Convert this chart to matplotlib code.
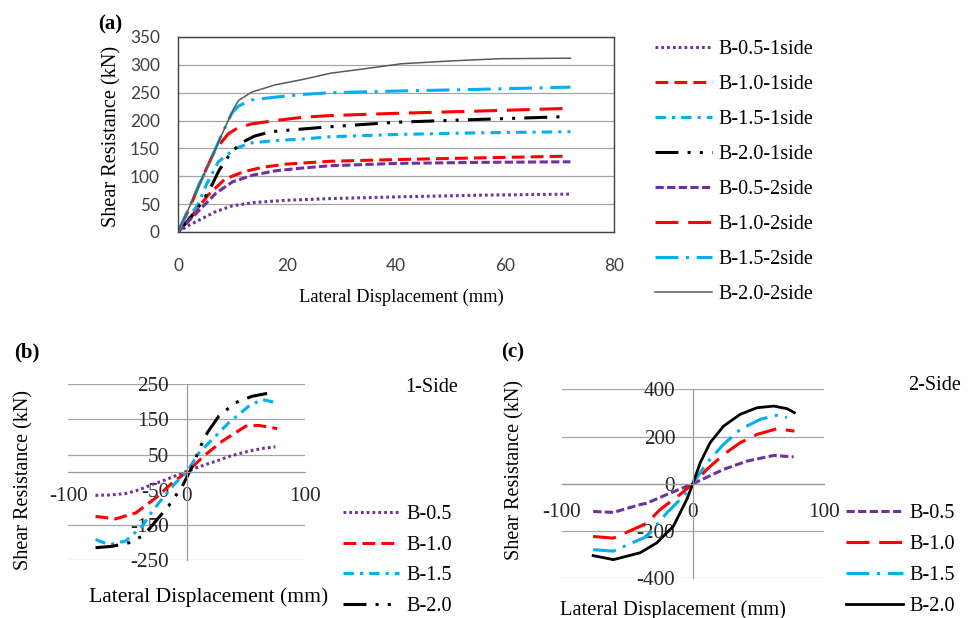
import matplotlib
matplotlib.use("Agg")
import matplotlib.pyplot as plt

# ---------------- data: panel (a) ----------------
a_labels = ["B-0.5-1side", "B-1.0-1side", "B-1.5-1side", "B-2.0-1side",
            "B-0.5-2side", "B-1.0-2side", "B-1.5-2side", "B-2.0-2side"]
a05_1x = [0, 2, 4, 7, 10, 14, 20, 28, 40, 55, 72]
a05_1y = [0, 12, 22, 37, 47, 53, 57, 60, 63, 66, 68]
a10_1x = [0, 3.1, 5.5, 8.6, 12, 15.4, 20, 28, 40, 55, 71]
a10_1y = [0, 36, 66, 95, 108, 116, 122, 127, 130, 133, 136]
a15_1x = [0, 2, 3.7, 5.2, 7.4, 10.5, 13.5, 17.8, 23, 28, 40, 55, 72]
a15_1y = [0, 25, 50, 85, 126, 150, 160, 164, 167, 171, 175, 178, 180]
a20_1x = [0, 2.5, 4.5, 6, 7.5, 9.8, 12, 14, 17, 23, 28, 40, 55, 71]
a20_1y = [0, 28, 55, 80, 110, 144, 162, 172, 180, 185, 189, 197, 202, 207]
a05_2x = [0, 3, 5, 7, 10, 13.7, 18, 23, 28, 40, 55, 72]
a05_2y = [0, 30, 50, 70, 90, 102, 110, 115, 119, 123, 125, 126]
a10_2x = [0, 2, 4, 6.8, 9.2, 11, 13.5, 17.8, 23, 28, 40, 55, 72]
a10_2y = [0, 40, 88, 147, 176, 187, 194, 200, 206, 209, 213, 217, 222]
a15_2x = [0, 2, 4, 6, 8, 9.2, 10, 11.1, 13.5, 17.8, 23, 28, 40, 55, 72]
a15_2y = [0, 43, 87, 130, 174, 200, 215, 226, 237, 242, 247, 250, 253, 256, 260]
a20_2x = [0, 2, 4, 6, 8, 9.2, 10.2, 11.1, 13.5, 17.8, 23, 28, 35, 41, 50, 59, 72]
a20_2y = [0, 43, 87, 130, 174, 200, 221, 236, 251, 264, 274, 285, 294, 302, 307, 311, 312]
a_xticks = [0, 20, 40, 60, 80]
a_yticks = [0, 50, 100, 150, 200, 250, 300, 350]

# ---------------- data: panel (b) 1-Side ----------------
bc_labels = ["B-0.5", "B-1.0", "B-1.5", "B-2.0"]
b05x = [-77, -65, -51.5, -40, -29, -18, -6.5, 0.5, 12, 24.5, 38, 52.6, 65, 75]
b05y = [-66, -65, -61, -50, -35, -22, -6.5, 3, 17, 31, 47, 60, 68, 72]
b10x = [-77, -60, -43, -26, -12, 0, 16, 30, 50, 61, 76.5]
b10y = [-126, -133, -116, -73, -30, 0, 50, 88, 131, 133, 124]
b15x = [-77, -65.6, -51.5, -37.5, -32, -23.4, -9.3, 0, 10.4, 24.5, 35.7, 52.6, 63.8, 75]
b15y = [-192, -206, -196, -154, -125, -87, -30, 0, 55, 103, 141, 188, 207, 198]
b20x = [-77, -63, -48.7, -37.5, -32, -15, -3.7, 4.7, 11.8, 17.4, 27.3, 41.4, 55.4, 68]
b20y = [-215, -211, -201, -182, -163, -95, -40, 16, 74, 112, 160, 198, 216, 224]
b_xticks = [-100, 0, 100]
b_yticks = [-250, -150, -50, 50, 150, 250]

# ---------------- data: panel (c) 2-Side ----------------
c05x = [-76, -60.6, -40.2, -35, -19.8, 0, 23.4, 41.2, 61.6, 76.8]
c05y = [-117, -121, -88, -82, -45, 0, 61, 96, 120, 114]
c10x = [-76, -60.6, -40.2, -35, -25, -9.7, 0, 10.7, 23.4, 36.1, 48.9, 64.1, 77.4]
c10y = [-223, -230, -180, -166, -109, -45, 0, 61, 124, 174, 209, 233, 223]
c15x = [-76, -60.6, -40.2, -35, -19.8, -7.1, 0, 10.7, 23.4, 36.1, 51.4, 64.1, 71.8]
c15y = [-279, -285, -235, -223, -123, -52, 0, 89, 167, 230, 273, 290, 280]
c20x = [-76, -60.6, -40.2, -27.5, -14.8, -4.6, 0, 5.6, 13.2, 23.4, 36.1, 48.9, 61.6, 71.8, 77.4]
c20y = [-304, -321, -292, -250, -179, -66, 0, 89, 174, 244, 294, 322, 329, 318, 301]
c_xticks = [-100, 0, 100]
c_yticks = [-400, -200, 0, 200, 400]

# ---------------- styles ----------------
PURPLE, RED, CYAN, BLACK, GRAY = "#7030A0", "#FF0000", "#00B0F0", "#000000", "#595959"
LS_DOT = (0, (0.9, 1.0))
LS_DASH = (0, (4.2, 2.0))
LS_DASHDOT = (0, (3.4, 2.0, 1.0, 2.0))
LS_LDDD = (0, (7.5, 3.0, 1.0, 3.0, 1.0, 3.0))
LS_SDASH = (0, (2.7, 1.1))
LS_LDASH = (0, (7.5, 3.2))
LS_LDASHDOT = (0, (7.5, 2.5, 1.0, 2.5))
LW = 2.2

SERIF = "Liberation Serif"
SANS = "Lato"
GRIDC = "#A6A6A6"

W, H = 975, 618
fig = plt.figure(figsize=(W / 100, H / 100), dpi=100)


def rect(l, r, t, b):
    return [l / W, 1 - b / H, (r - l) / W, (b - t) / H]


# ================= panel (a) =================
axa = fig.add_axes(rect(178, 614, 37, 232))
series_a = [
    (a05_1x, a05_1y, PURPLE, LS_DOT, LW),
    (a10_1x, a10_1y, RED, LS_DASH, LW),
    (a15_1x, a15_1y, CYAN, LS_DASHDOT, LW),
    (a20_1x, a20_1y, BLACK, LS_LDDD, LW),
    (a05_2x, a05_2y, PURPLE, LS_SDASH, LW),
    (a10_2x, a10_2y, RED, LS_LDASH, LW),
    (a15_2x, a15_2y, CYAN, LS_LDASHDOT, LW),
    (a20_2x, a20_2y, GRAY, "-", 1.1),
]
ha = []
for (x, y, c, ls, lw), lab in zip(series_a, a_labels):
    ln, = axa.plot(x, y, color=c, linestyle=ls, lw=lw, label=lab)
    ha.append(ln)
axa.set_xlim(0, 80)
axa.set_ylim(0, 350)
axa.tick_params(axis="both", length=0, colors="#404040", labelsize=12.4,
                labelfontfamily=SANS)
axa.tick_params(axis="x", pad=19)
axa.tick_params(axis="y", pad=13)
axa.set_xticks(a_xticks, [str(v) for v in a_xticks])
axa.set_yticks(a_yticks, [str(v) for v in a_yticks])
axa.grid(axis="y", color=GRIDC, lw=0.9)
axa.set_axisbelow(True)
for s in axa.spines.values():
    s.set_color("#404040")
    s.set_linewidth(1.0)
axa.set_xlabel("Lateral Displacement (mm)", fontfamily=SERIF, fontsize=13.3, va="center")
axa.xaxis.set_label_coords(0.5126, -0.333)
axa.set_ylabel("Shear Resistance (kN)", fontfamily=SERIF, fontsize=14.6, va="center")
axa.yaxis.set_label_coords(-0.151, 0.492)
fig.text(110 / W, 1 - 24 / H, "(a)", fontfamily=SERIF, fontweight="bold", fontsize=15,
         ha="center", va="center")
fig.legend(handles=ha, labels=a_labels, loc="upper left",
           bbox_to_anchor=(655 / W, 1 - 39.5 / H), frameon=False,
           prop={"family": SERIF, "size": 14.5}, handlelength=2.83,
           handletextpad=0.3, labelspacing=0.79, borderpad=0, borderaxespad=0)


def excel_cross_axes(ax, xlim, ylim, xticks, yticks, xpad, ypad, hide_grid=()):
    ax.spines["top"].set_visible(False)
    ax.spines["right"].set_visible(False)
    ax.spines["left"].set_position(("data", 0))
    ax.spines["bottom"].set_position(("data", 0))
    for k in ("left", "bottom"):
        ax.spines[k].set_color("#999999")
        ax.spines[k].set_linewidth(0.9)
    ax.set_xlim(*xlim)
    ax.set_ylim(*ylim)
    ax.tick_params(axis="both", length=0, colors="#262626", labelsize=15.2,
                   labelfontfamily=SERIF)
    ax.tick_params(axis="x", pad=xpad)
    ax.tick_params(axis="y", pad=ypad)
    ax.set_xticks(xticks, [str(v) for v in xticks])
    ax.set_yticks(yticks, [str(v) for v in yticks])
    ax.grid(axis="y", color=GRIDC, lw=0.9)
    for v, t in zip(yticks, ax.yaxis.get_major_ticks()):
        if v in hide_grid:
            t.gridline.set_visible(False)
    ax.set_axisbelow(True)


# ================= panel (b) =================
axb = fig.add_axes(rect(68.3, 305, 384.3, 560))
series_b = [
    (b05x, b05y, PURPLE, LS_DOT, LW),
    (b10x, b10y, RED, LS_DASH, LW),
    (b15x, b15y, CYAN, LS_DASHDOT, LW),
    (b20x, b20y, BLACK, LS_LDDD, LW),
]
hb = []
for (x, y, c, ls, lw), lab in zip(series_b, bc_labels):
    ln, = axb.plot(x, y, color=c, linestyle=ls, lw=lw, label=lab)
    hb.append(ln)
excel_cross_axes(axb, (-100, 100), (-250, 250), b_xticks, b_yticks, 10.5, 12.7, hide_grid=(-50,))
axb.set_xlabel("Lateral Displacement (mm)", fontfamily=SERIF, fontsize=15.6, va="center")
axb.xaxis.set_label_coords(0.592, -0.21)
axb.set_ylabel("Shear Resistance (kN)", fontfamily=SERIF, fontsize=14.5, va="center")
axb.yaxis.set_label_coords(-0.187, 0.455)
fig.text(27 / W, 1 - 352 / H, "(b)", fontfamily=SERIF, fontweight="bold", fontsize=15,
         ha="center", va="center")
fig.text(405 / W, 1 - 387 / H, "1-Side", fontfamily=SERIF, fontsize=14.5, ha="left", va="center")
fig.legend(handles=hb, labels=bc_labels, loc="upper left",
           bbox_to_anchor=(342.7 / W, 1 - 505 / H), frameon=False,
           prop={"family": SERIF, "size": 14.6}, handlelength=2.8,
           handletextpad=0.33, labelspacing=0.56, borderpad=0, borderaxespad=0)

# ================= panel (c) =================
axc = fig.add_axes(rect(561.7, 824, 389.3, 578.3))
series_c = [
    (c05x, c05y, PURPLE, LS_SDASH, LW),
    (c10x, c10y, RED, LS_LDASH, LW),
    (c15x, c15y, CYAN, LS_LDASHDOT, LW),
    (c20x, c20y, BLACK, "-", 2.0),
]
hc = []
for (x, y, c, ls, lw), lab in zip(series_c, bc_labels):
    ln, = axc.plot(x, y, color=c, linestyle=ls, lw=lw, label=lab)
    hc.append(ln)
excel_cross_axes(axc, (-100, 100), (-400, 400), c_xticks, c_yticks, 13.7, 12.7)
axc.set_xlabel("Lateral Displacement (mm)", fontfamily=SERIF, fontsize=14.8, va="center")
axc.xaxis.set_label_coords(0.424, -0.166)
axc.set_ylabel("Shear Resistance (kN)", fontfamily=SERIF, fontsize=14.5, va="center")
axc.yaxis.set_label_coords(-0.178, 0.573)
fig.text(513 / W, 1 - 352 / H, "(c)", fontfamily=SERIF, fontweight="bold", fontsize=15,
         ha="center", va="center")
fig.text(908 / W, 1 - 385 / H, "2-Side", fontfamily=SERIF, fontsize=14.5, ha="left", va="center")
fig.legend(handles=hc, labels=bc_labels, loc="upper left",
           bbox_to_anchor=(846 / W, 1 - 504 / H), frameon=False,
           prop={"family": SERIF, "size": 14.6}, handlelength=2.8,
           handletextpad=0.33, labelspacing=0.58, borderpad=0, borderaxespad=0)

fig.savefig("out.png", dpi=100)
